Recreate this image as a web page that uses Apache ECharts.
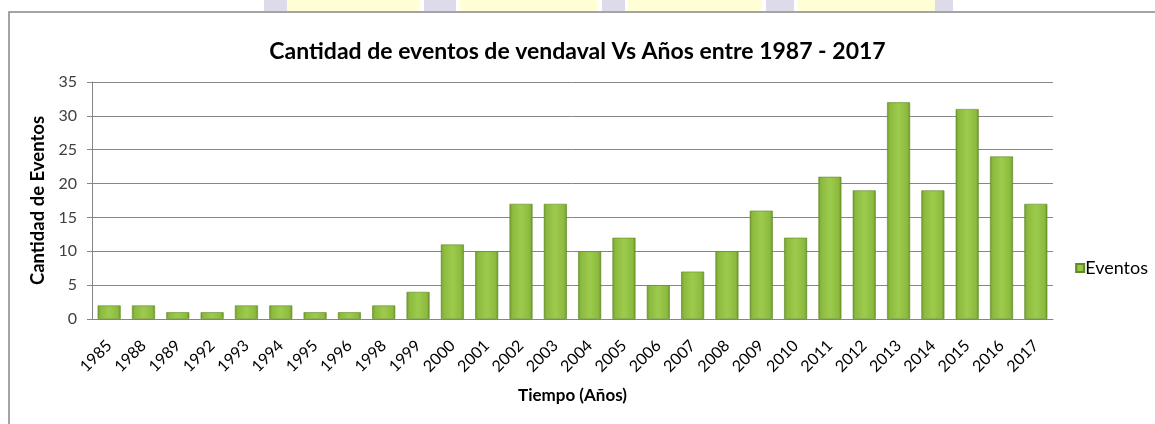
<!DOCTYPE html>
<html>
<head>
<meta charset="utf-8">
<script src="https://cdn.jsdelivr.net/npm/echarts@6/dist/echarts.min.js"></script>
<style>
html,body{margin:0;padding:0;background:#fff;}
#c{width:1155px;height:424px;}
</style>
</head>
<body>
<div id="c"></div>
<script>
const years = ['1985','1988','1989','1992','1993','1994','1995','1996','1998','1999','2000','2001','2002','2003','2004','2005','2006','2007','2008','2009','2010','2011','2012','2013','2014','2015','2016','2017'];
const eventos = [2,2,1,1,2,2,1,1,2,4,11,10,17,17,10,12,5,7,10,16,12,21,19,32,19,31,24,17];
const yTicks = [0,5,10,15,20,25,30,35];

const chart = echarts.init(document.getElementById('c'));
const barColor = new echarts.graphic.LinearGradient(0,0,1,0,[
  {offset:0,color:'#6f9a2c'},
  {offset:0.12,color:'#8cba3f'},
  {offset:0.5,color:'#9dcb4c'},
  {offset:0.88,color:'#8cba3f'},
  {offset:1,color:'#6a952a'}
]);
const F = 'Lato, "Open Sans", sans-serif';
chart.setOption({
  animation:false,
  backgroundColor:'#fff',
  graphic:[
    {type:'rect',shape:{x:264,y:0,width:23,height:11},style:{fill:'#dddbea'}},
    {type:'rect',shape:{x:287,y:0,width:133,height:11},style:{fill:'#fffed4'}},
    {type:'rect',shape:{x:424,y:0,width:32,height:11},style:{fill:'#dddbea'}},
    {type:'rect',shape:{x:460,y:0,width:137,height:11},style:{fill:'#fffed4'}},
    {type:'rect',shape:{x:602,y:0,width:23,height:11},style:{fill:'#dddbea'}},
    {type:'rect',shape:{x:628,y:0,width:134,height:11},style:{fill:'#fffed4'}},
    {type:'rect',shape:{x:766,y:0,width:28,height:11},style:{fill:'#dddbea'}},
    {type:'rect',shape:{x:798,y:0,width:137,height:11},style:{fill:'#fffed4'}},
    {type:'rect',shape:{x:935,y:0,width:18,height:11},style:{fill:'#dddbea'}},
    {type:'rect',shape:{x:9,y:12,width:1150,height:420},style:{fill:'none',stroke:'#868686',lineWidth:1.5}}
  ],
  title:{
    text:'Cantidad de eventos de vendaval Vs Años entre 1987 - 2017',
    left:'center', top:35,
    textStyle:{fontFamily:F,fontWeight:'bold',fontSize:23,color:'#000'}
  },
  legend:{
    data:['Eventos'], right:2, top:254,
    orient:'vertical',
    itemWidth:8,itemHeight:8,itemGap:4,
    textStyle:{fontFamily:F,fontSize:18,color:'#000',padding:[0,0,0,-4]},
    icon:'rect'
  },
  grid:{left:92,right:102,top:82,bottom:105},
  xAxis:{
    type:'category', data:years,
    name:'Tiempo (Años)', nameLocation:'middle', nameGap:68,
    nameTextStyle:{fontFamily:F,fontWeight:'bold',fontSize:17,color:'#000'},
    axisLine:{lineStyle:{color:'#868686',width:1}},
    axisTick:{show:false},
    axisLabel:{rotate:45,fontFamily:F,fontSize:16,color:'#000',margin:24},
  },
  yAxis:{
    type:'value', min:0, max:35, interval:5,
    name:'Cantidad de Eventos', nameLocation:'middle', nameGap:42,
    nameTextStyle:{fontFamily:F,fontWeight:'bold',fontSize:18.5,color:'#000'},
    axisLine:{show:true,lineStyle:{color:'#868686',width:1}},
    axisTick:{show:true,length:5,lineStyle:{color:'#868686'}},
    axisLabel:{fontFamily:F,fontSize:16,color:'#404040',margin:15,
      formatter:v=>yTicks.includes(v)?String(v):''},
    splitLine:{lineStyle:{color:'#868686',width:1}}
  },
  series:[{
    name:'Eventos', type:'bar', data:eventos,
    barCategoryGap:'33%',
    itemStyle:{color:barColor,borderColor:'#5f8a25',borderWidth:0.6}
  }]
});
</script>
</body>
</html>
